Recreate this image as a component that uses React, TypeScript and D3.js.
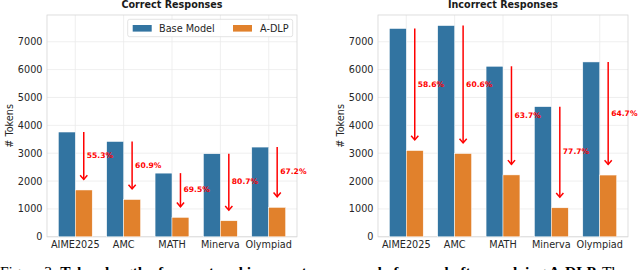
import * as d3 from 'd3';

const categories = ['AIME2025', 'AMC', 'MATH', 'Minerva', 'Olympiad'];
const correctBase = [3760, 3420, 2285, 2980, 3220];
const correctDlp = [1680, 1338, 697, 575, 1056];
const correctPct = ['55.3%', '60.9%', '69.5%', '80.7%', '67.2%'];
const incorrectBase = [7475, 7580, 6120, 4670, 6275];
const incorrectDlp = [3095, 2988, 2221, 1041, 2216];
const incorrectPct = ['58.6%', '60.6%', '63.7%', '77.7%', '64.7%'];
const yTicks = [0, 1000, 2000, 3000, 4000, 5000, 6000, 7000];
const legendLabels = ['Base Model', 'A-DLP'];

const BLUE = '#3274a1';
const ORANGE = '#e1812c';
const FONT = '"DejaVu Sans", sans-serif';

const W = 640, H = 270;
const TOP = 15, BOTTOM = 236.8;
const BAR_W = 0.35;
const ARROW_GAP = 380; // arrow tip sits a little above the orange bar

const y = d3.scaleLinear().domain([0, 7960]).range([BOTTOM, TOP]);

type PanelProps = {
  x0: number;
  x1: number;
  title: string;
  base: number[];
  dlp: number[];
  pct: string[];
  legend?: boolean;
};

function Panel({ x0, x1, title, base, dlp, pct, legend }: PanelProps) {
  const x = d3.scaleLinear().domain([-0.585, 4.585]).range([x0, x1]);
  const bw = x(BAR_W) - x(0);
  const mid = (x0 + x1) / 2;

  return (
    <g>
      {/* grid */}
      {yTicks.map(t => (
        <line key={'h' + t} x1={x0} x2={x1} y1={y(t)} y2={y(t)} stroke="#ebebeb" strokeWidth={0.8} />
      ))}
      {categories.map((c, i) => (
        <line key={'v' + c} x1={x(i)} x2={x(i)} y1={TOP} y2={BOTTOM} stroke="#ebebeb" strokeWidth={0.8} />
      ))}
      <rect x={x0} y={TOP} width={x1 - x0} height={BOTTOM - TOP} fill="none" stroke="#d6d6d6" strokeWidth={0.8} />

      {/* bars */}
      {categories.map((c, i) => (
        <g key={'b' + c}>
          <rect x={x(i - BAR_W)} y={y(base[i])} width={bw} height={y(0) - y(base[i])}
            fill={BLUE} stroke="#ffffff" strokeWidth={0.5} />
          <rect x={x(i)} y={y(dlp[i])} width={bw} height={y(0) - y(dlp[i])}
            fill={ORANGE} stroke="#ffffff" strokeWidth={0.5} />
        </g>
      ))}

      {/* reduction arrows */}
      {categories.map((c, i) => {
        const ax = x(i + BAR_W / 2);
        const end = dlp[i] + ARROW_GAP;
        const ty = y(end);
        return (
          <g key={'a' + c}>
            <line x1={ax} x2={ax} y1={y(base[i])} y2={ty} stroke="#ff0000" strokeWidth={1.5} />
            <path d={`M${ax - 3.6},${ty - 4.2} L${ax},${ty} L${ax + 3.6},${ty - 4.2}`}
              fill="none" stroke="#ff0000" strokeWidth={1.5} />
            <text x={ax + 3} y={y((base[i] + end) / 2)} dominantBaseline="central"
              fontSize={7.6} fontWeight="bold" fill="#ff0000">{pct[i]}</text>
          </g>
        );
      })}

      {/* axes text */}
      {yTicks.map(t => (
        <text key={'yt' + t} x={x0 - 4.5} y={y(t)} dominantBaseline="central" textAnchor="end"
          fontSize={9.7} fill="#262626">{t}</text>
      ))}
      {categories.map((c, i) => (
        <text key={'xt' + c} x={x(i)} y={247.8} textAnchor="middle" fontSize={9.7} fill="#262626">{c}</text>
      ))}
      <text transform={`translate(${x0 - 34.5},${(TOP + BOTTOM) / 2}) rotate(-90)`} textAnchor="middle"
        fontSize={9.7} fill="#262626"># Tokens</text>
      <text x={mid} y={7.5} textAnchor="middle" fontSize={9.6} fontWeight="bold" fill="#1a1a1a">{title}</text>

      {legend && (
        <g>
          <rect x={127.7} y={19.3} width={165} height={17.4} rx={2} fill="#ffffff" fillOpacity={0.85}
            stroke="#dcdcdc" strokeWidth={0.8} />
          <rect x={132.7} y={25} width={19} height={6.6} fill={BLUE} />
          <text x={159} y={28.3} dominantBaseline="central" fontSize={9.7} fill="#262626">{legendLabels[0]}</text>
          <rect x={233} y={25} width={19} height={6.6} fill={ORANGE} />
          <text x={260} y={28.3} dominantBaseline="central" fontSize={9.7} fill="#262626">{legendLabels[1]}</text>
        </g>
      )}
    </g>
  );
}

export default function App() {
  return (
    <svg width={W} height={H} viewBox={`0 0 ${W} ${H}`}
      style={{ position: 'absolute', left: 0, top: 0, background: '#fff', fontFamily: FONT }}>
      <rect width={W} height={H} fill="#ffffff" />
      <Panel x0={47} x1={297} title="Correct Responses" base={correctBase} dlp={correctDlp} pct={correctPct} legend />
      <Panel x0={378} x1={628} title="Incorrect Responses" base={incorrectBase} dlp={incorrectDlp} pct={incorrectPct} />
      {/* figure caption, cut off by the bottom edge as in the source */}
      <text x={0} y={277} fontFamily='"Liberation Serif", serif' fontSize={15.5} fill="#000">
        Figure 3: <tspan fontWeight="bold">Token length of correct and incorrect responses before and after applying A-DLP.</tspan> The
      </text>
    </svg>
  );
}
